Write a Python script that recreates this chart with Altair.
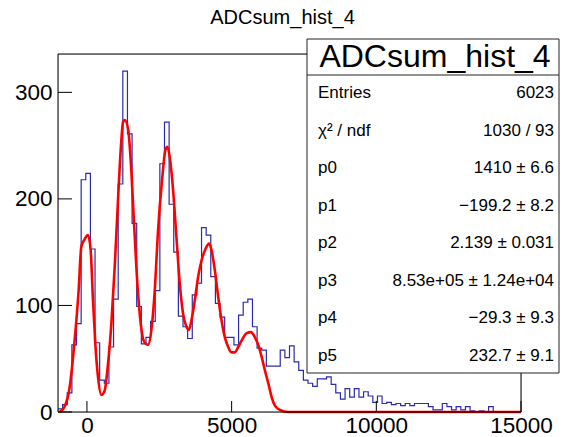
import altair as alt
import pandas as pd

# ---------------- data ----------------
bin_lo = -1000
bin_w = 160
counts = [3, 7, 18, 63, 83, 218, 224, 153, 65, 30,
          27, 61, 106, 214, 320, 261, 177, 99, 64, 70,
          85, 114, 233, 272, 195, 150, 90, 80, 69, 110,
          121, 173, 166, 127, 102, 89, 70, 70, 63, 91,
          103, 106, 80, 60, 58, 43, 43, 43, 58, 51,
          62, 47, 39, 30, 27, 24, 31, 31, 33, 26,
          18, 12, 22, 14, 22, 14, 19, 15, 9, 15,
          8, 9, 7, 8, 6, 8, 6, 8, 8, 8,
          5, 2, 2, 8, 5, 2, 5, 2, 5, 1,
          0, 1, 0, 5, 0, 0, 0, 0, 0, 0]

fit_x = [-945, -772, -599, -426, -287, -195, -103, 36, 128, 209,
         290, 382, 497, 613, 705, 844, 959, 1074, 1167, 1248,
         1305, 1420, 1513, 1628, 1744, 1859, 1974, 2112, 2228, 2343,
         2459, 2597, 2713, 2782, 2863, 2978, 3093, 3209, 3324, 3439,
         3520, 3612, 3728, 3843, 3958, 4097, 4224, 4305, 4420, 4536,
         4651, 4766, 4882, 4997, 5113, 5228, 5344, 5517, 5667, 5805,
         5920, 6036, 6151, 6267, 6382, 6497, 6670, 6959, 15000]
fit_y = [0, 5, 23, 67, 114, 155, 161, 166, 152, 105,
         64, 33, 16, 20, 39, 83, 136, 199, 246, 272,
         274, 266, 236, 177, 120, 83, 66, 63, 77, 114,
         171, 218, 246, 249, 239, 208, 164, 120, 92, 80,
         77, 86, 105, 127, 142, 153, 158, 152, 133, 108,
         86, 70, 61, 56, 56, 61, 67, 74, 75, 70,
         63, 52, 39, 27, 14, 6, 2, 0, 0]

x_ticks = [0, 5000, 10000, 15000]
y_ticks = [0, 100, 200, 300]

title_text = "ADCsum_hist_4"
stat_labels = ["Entries", "χ² / ndf", "p0", "p1", "p2", "p3", "p4", "p5"]
stat_values = ["6023", "1030 / 93", "1410 ± 6.6", "−199.2 ± 8.2",
               "2.139 ± 0.031", "8.53e+05 ± 1.24e+04", "−29.3 ± 9.3",
               "232.7 ± 9.1"]

# ---------------- layout ----------------
W, H = 463, 358
FONT = "Liberation Sans"

edges = [bin_lo + i * bin_w for i in range(len(counts) + 1)]
hist_df = pd.DataFrame({"x": edges, "y": counts + [counts[-1]]})
fit_df = pd.DataFrame({"x": fit_x, "y": fit_y})
one = pd.DataFrame({"a": [0]})

xscale = alt.Scale(domain=[-1000, 15000], nice=False, zero=False)
yscale = alt.Scale(domain=[0, 336], nice=False, zero=False)

xaxis = alt.Axis(values=x_ticks, title=None, grid=False, domain=False,
                 ticks=False, labelFontSize=22.5, labelPadding=2, format="d",
                 labelColor="black", labelFont=FONT, labelFlush=False)
yaxis = alt.Axis(values=y_ticks, title=None, grid=False, domain=False,
                 ticks=False, labelFontSize=22.5, labelPadding=6, format="d",
                 labelColor="black", labelFont=FONT)

hist = alt.Chart(hist_df).mark_line(
    interpolate="step-after", color="#2b2bb0", strokeWidth=1.2
).encode(
    x=alt.X("x:Q", scale=xscale, axis=xaxis),
    y=alt.Y("y:Q", scale=yscale, axis=yaxis),
)

fit = alt.Chart(fit_df).mark_line(
    interpolate="monotone", color="#ff0000", strokeWidth=2.6
).encode(
    x=alt.X("x:Q", scale=xscale),
    y=alt.Y("y:Q", scale=yscale),
)

xt = alt.Chart(pd.DataFrame({"v": x_ticks})).mark_rule(color="black").encode(
    x=alt.X("v:Q", scale=xscale), y=alt.value(H - 11), y2=alt.value(H))
yt = alt.Chart(pd.DataFrame({"v": y_ticks})).mark_rule(color="black").encode(
    y=alt.Y("v:Q", scale=yscale), x=alt.value(0), x2=alt.value(14))

frame = [
    alt.Chart(one).mark_rule(color="black").encode(x=alt.value(0), x2=alt.value(W), y=alt.value(0)),
    alt.Chart(one).mark_rule(color="black").encode(x=alt.value(0), x2=alt.value(W), y=alt.value(H)),
    alt.Chart(one).mark_rule(color="black").encode(x=alt.value(0), y=alt.value(0), y2=alt.value(H)),
    alt.Chart(one).mark_rule(color="black").encode(x=alt.value(W), y=alt.value(0), y2=alt.value(H)),
]

# stats box
BX0, BX1, BY0, BY1 = 249, 501, -15, 319
box = alt.Chart(one).mark_rect(fill="white", stroke="#222222", strokeWidth=1).encode(
    x=alt.value(BX0), x2=alt.value(BX1), y=alt.value(BY0), y2=alt.value(BY1))
hline = alt.Chart(one).mark_rule(color="#222222").encode(
    x=alt.value(BX0), x2=alt.value(BX1), y=alt.value(21))
header = alt.Chart(one).mark_text(
    text=title_text, fontSize=32, font=FONT, align="center", baseline="middle", color="black"
).encode(x=alt.value((BX0 + BX1) / 2 + 2), y=alt.value(3))

rows = []
for i, (lab, val) in enumerate(zip(stat_labels, stat_values)):
    yy = 39 + i * 37.5
    rows.append(alt.Chart(one).mark_text(
        text=lab, fontSize=17, font=FONT, align="left", baseline="middle", color="black"
    ).encode(x=alt.value(BX0 + 11), y=alt.value(yy)))
    rows.append(alt.Chart(one).mark_text(
        text=val, fontSize=17, font=FONT, align="right", baseline="middle", color="black"
    ).encode(x=alt.value(BX1 - 5), y=alt.value(yy)))

title = alt.Chart(one).mark_text(
    text=title_text, fontSize=20, font=FONT, align="center", baseline="middle", color="black"
).encode(x=alt.value(282.5 - 58), y=alt.value(18 - 54))

chart = alt.layer(
    hist, fit, xt, yt, *frame, box, hline, header, *rows, title
).properties(
    width=W, height=H,
    padding={"left": 58, "top": 54, "right": 44, "bottom": 25},
    autosize=alt.AutoSizeParams(type="none"),
    background="white",
).configure_view(stroke=None).configure(font=FONT)

chart.save("out.html", embed_options={"renderer": "svg", "actions": False})
